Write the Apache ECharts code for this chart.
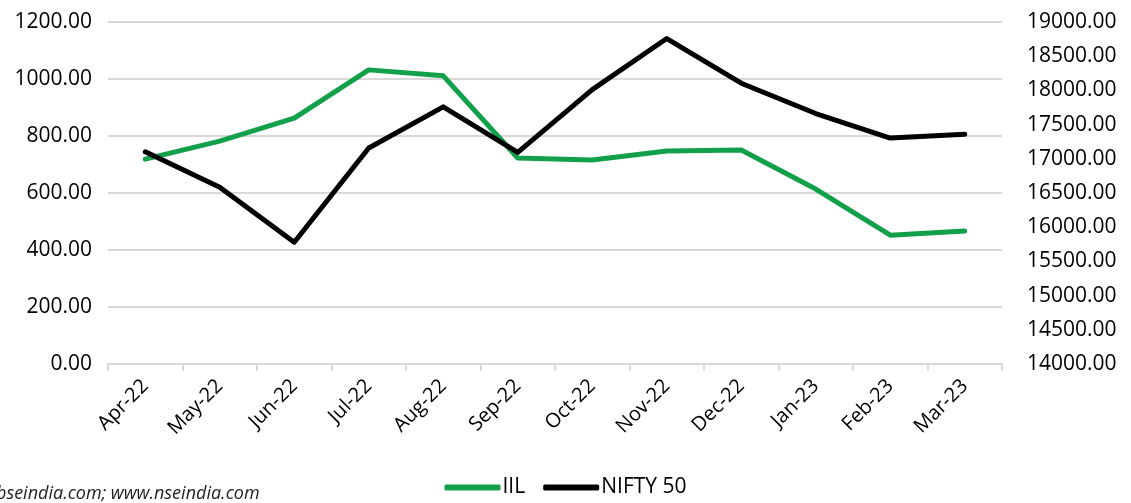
<!DOCTYPE html>
<html>
<head>
<meta charset="utf-8">
<style>
  html, body { margin: 0; padding: 0; background: #fff; }
  #chart { width: 1131px; height: 503px; }
</style>
<script src="https://cdn.jsdelivr.net/npm/echarts@6/dist/echarts.min.js"></script>
</head>
<body>
<div id="chart"></div>
<script>
// months on the x axis
var months = ['Apr-22', 'May-22', 'Jun-22', 'Jul-22', 'Aug-22', 'Sep-22',
  'Oct-22', 'Nov-22', 'Dec-22', 'Jan-23', 'Feb-23', 'Mar-23']
// IIL share price (left axis)
var iil = [719, 782, 863, 1032, 1011, 723, 716, 747, 751, 614, 452, 467]
// NIFTY 50 close (right axis)
var nifty = [17102, 16584, 15780, 17158, 17759, 17094, 18012, 18758, 18105, 17662, 17304, 17360]

var green = '#13a04a'
var font = 'Open Sans'

var chart = echarts.init(document.getElementById('chart'))
var option = {
  animation: false,
  textStyle: { fontFamily: font },
  grid: { left: 108, right: 129, top: 22, bottom: 139 },
  legend: {
    bottom: 0,
    left: 'center',
    itemWidth: 56,
    itemHeight: 6,
    itemGap: 18,
    textStyle: { fontSize: 21, color: '#000', fontFamily: font, padding: [0, 0, 0, -3] },
    data: [
      { name: 'IIL', icon: 'roundRect' },
      { name: 'NIFTY 50', icon: 'roundRect' }
    ]
  },
  graphic: [{
    type: 'text',
    left: -4,
    bottom: 0,
    style: {
      text: 'bseindia.com; www.nseindia.com',
      fontSize: 18,
      fontStyle: 'italic',
      fontFamily: font,
      fill: '#222'
    }
  }],
  xAxis: {
    type: 'category',
    data: months,
    boundaryGap: true,
    axisLine: { lineStyle: { color: '#d9d9d9', width: 2 } },
    axisTick: { show: true, length: 7, lineStyle: { color: '#d9d9d9', width: 2 } },
    axisLabel: { rotate: 45, fontSize: 20, color: '#000', margin: 19, interval: 0 }
  },
  yAxis: [
    {
      type: 'value',
      min: 0,
      max: 1200,
      interval: 200,
      position: 'left',
      axisLine: { show: false },
      axisTick: { show: false },
      splitLine: { lineStyle: { color: '#d9d9d9', width: 2 } },
      axisLabel: {
        fontSize: 21, color: '#000', margin: 16,
        formatter: function (v) { return v.toFixed(2) }
      }
    },
    {
      type: 'value',
      min: 14000,
      max: 19000,
      interval: 500,
      position: 'right',
      axisLine: { show: false },
      axisTick: { show: false },
      splitLine: { show: false },
      axisLabel: {
        fontSize: 21, color: '#000', margin: 25,
        formatter: function (v) { return v.toFixed(2) }
      }
    }
  ],
  series: [
    {
      name: 'IIL',
      type: 'line',
      data: iil,
      yAxisIndex: 0,
      symbol: 'none',
      color: green,
      lineStyle: { color: green, width: 5, join: 'round', cap: 'round' }
    },
    {
      name: 'NIFTY 50',
      type: 'line',
      data: nifty,
      yAxisIndex: 1,
      symbol: 'none',
      color: '#000',
      lineStyle: { color: '#000', width: 5, join: 'round', cap: 'round' }
    }
  ]
}
chart.setOption(option)
</script>
</body>
</html>
